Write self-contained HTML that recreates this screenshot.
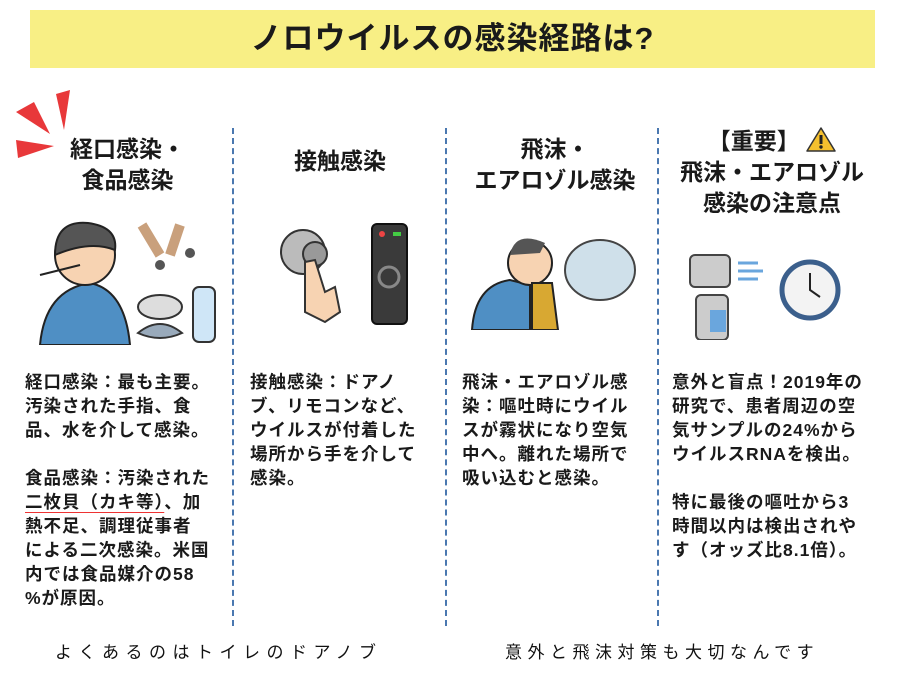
<!DOCTYPE html>
<html><head><meta charset="utf-8"><style>
*{margin:0;padding:0;box-sizing:border-box}
body{width:900px;height:675px;background:#fff;position:relative;overflow:hidden;font-family:"Liberation Sans","Noto Sans CJK JP",sans-serif;color:#1a1a1a}
.title{position:absolute;left:30px;top:10px;width:845px;height:58px;background:#f8ef85;text-align:center;font-weight:bold;font-size:31px;line-height:58px;letter-spacing:1px}
.div{position:absolute;top:128px;height:498px;border-left:2.5px dashed #4a78b0}
.h{position:absolute;text-align:center;font-weight:bold;font-size:23px;line-height:31px}
.b{position:absolute;font-weight:bold;font-size:17.5px;line-height:24px;letter-spacing:1px;white-space:nowrap}
.cap{position:absolute;top:638px;font-size:17px;letter-spacing:6.5px;font-family:"Noto Sans CJK JP",sans-serif;font-weight:400;color:#111}
</style></head><body>
<div class="title">ノロウイルスの感染経路は?</div>
<div class="div" style="left:232px"></div>
<div class="div" style="left:445px"></div>
<div class="div" style="left:657px"></div>

<svg style="position:absolute;left:14px;top:90px" width="60" height="70">
<polygon points="2,22 20,12 36,44" fill="#e8383a"/><polygon points="42,4 56,0 50,40" fill="#e8383a"/><polygon points="2,50 40,56 4,68" fill="#e8383a"/></svg>

<div class="h" style="left:45px;top:134px;width:165px">経口感染・<br>食品感染</div>
<div class="h" style="left:240px;top:146px;width:200px">接触感染</div>
<div class="h" style="left:452px;top:134px;width:206px">飛沫・<br>エアロゾル感染</div>
<div class="h" style="left:662px;top:126px;width:220px">【重要】 <svg width="30" height="26" style="vertical-align:-3px"><polygon points="15,2 29,25 1,25" fill="#f5c02e" stroke="#333" stroke-width="1.5" stroke-linejoin="round"/><rect x="13.5" y="9" width="3" height="9" fill="#222"/><circle cx="15" cy="21" r="1.7" fill="#222"/></svg><br>飛沫・エアロゾル<br>感染の注意点</div>

<svg style="position:absolute;left:30px;top:215px" width="195" height="130">
<path d="M10 130 Q15 75 60 68 Q95 75 100 130Z" fill="#4f8fc4" stroke="#222" stroke-width="2"/>
<circle cx="55" cy="40" r="30" fill="#f7d3b2" stroke="#222" stroke-width="2"/>
<path d="M25 40 Q25 5 58 8 Q88 12 85 35 Q60 25 25 40Z" fill="#555" stroke="#222" stroke-width="2"/>
<line x1="10" y1="60" x2="50" y2="50" stroke="#222" stroke-width="2"/>
<path d="M112 10 l18 30 M150 10 l-10 30" stroke="#c9a07c" stroke-width="10"/>
<circle cx="130" cy="50" r="5" fill="#555"/><circle cx="160" cy="38" r="5" fill="#555"/>
<ellipse cx="130" cy="92" rx="22" ry="12" fill="#ddd" stroke="#333" stroke-width="2"/>
<path d="M108 118 Q130 100 152 118 Q130 128 108 118Z" fill="#9ab" stroke="#333" stroke-width="2"/>
<rect x="163" y="72" width="22" height="55" rx="6" fill="#cfe6f7" stroke="#333" stroke-width="2"/>
</svg>

<svg style="position:absolute;left:275px;top:222px" width="140" height="105">
<circle cx="28" cy="30" r="22" fill="#bbb" stroke="#333" stroke-width="2"/><circle cx="40" cy="32" r="12" fill="#999" stroke="#333" stroke-width="2"/>
<path d="M30 40 L40 38 L50 70 L60 65 L65 90 L50 100 L30 90 Z" fill="#f7d3b2" stroke="#333" stroke-width="2"/>
<rect x="97" y="2" width="35" height="100" rx="5" fill="#3a3a3a" stroke="#111" stroke-width="2"/>
<circle cx="107" cy="12" r="3" fill="#e44"/><rect x="118" y="10" width="8" height="4" fill="#4c4"/>
<circle cx="114" cy="55" r="10" fill="none" stroke="#888" stroke-width="3"/>
</svg>

<svg style="position:absolute;left:470px;top:225px" width="175" height="105">
<path d="M2 105 Q5 60 40 55 L60 60 L60 105Z" fill="#4f8fc4" stroke="#222" stroke-width="2"/>
<circle cx="60" cy="38" r="22" fill="#f7d3b2" stroke="#222" stroke-width="2"/>
<path d="M40 30 Q45 5 75 18 L70 28 Z" fill="#555"/>
<path d="M62 58 L82 58 L88 105 L62 105Z" fill="#d8a832" stroke="#222" stroke-width="2"/>
<ellipse cx="130" cy="45" rx="35" ry="30" fill="#cfe0ea" stroke="#444" stroke-width="2"/>
</svg>

<svg style="position:absolute;left:688px;top:245px" width="155" height="95">
<rect x="2" y="10" width="40" height="32" rx="5" fill="#ccc" stroke="#444" stroke-width="2"/>
<rect x="8" y="50" width="32" height="45" rx="5" fill="#ccc" stroke="#444" stroke-width="2"/><rect x="22" y="65" width="16" height="22" fill="#6aa6dd"/>
<path d="M50 18 h20 M50 26 h25 M50 34 h20" stroke="#6aa6dd" stroke-width="3"/>
<circle cx="122" cy="45" r="28" fill="#f3f3f3" stroke="#3b5f8c" stroke-width="5"/>
<path d="M122 28 V45 L132 52" stroke="#222" stroke-width="2" fill="none"/>
</svg>

<div class="b" style="left:25px;top:370px">経口感染：最も主要。<br>汚染された手指、食<br>品、水を介して感染。<br><br>食品感染：汚染された<br><span style="text-decoration:underline;text-decoration-color:#e33;text-underline-offset:4px">二枚貝（カキ等）</span>、加<br>熱不足、調理従事者<br>による二次感染。米国<br>内では食品媒介の58<br>%が原因。</div>
<div class="b" style="left:250px;top:370px">接触感染：ドアノ<br>ブ、リモコンなど、<br>ウイルスが付着した<br>場所から手を介して<br>感染。</div>
<div class="b" style="left:462px;top:370px">飛沫・エアロゾル感<br>染：嘔吐時にウイル<br>スが霧状になり空気<br>中へ。離れた場所で<br>吸い込むと感染。</div>
<div class="b" style="left:672px;top:370px">意外と盲点！2019年の<br>研究で、患者周辺の空<br>気サンプルの24%から<br>ウイルスRNAを検出。<br><br>特に最後の嘔吐から3<br>時間以内は検出されや<br>す（オッズ比8.1倍）。</div>

<div class="cap" style="left:55px">よくあるのはトイレのドアノブ</div>
<div class="cap" style="left:505px;letter-spacing:5.5px">意外と飛沫対策も大切なんです</div>
</body></html>
